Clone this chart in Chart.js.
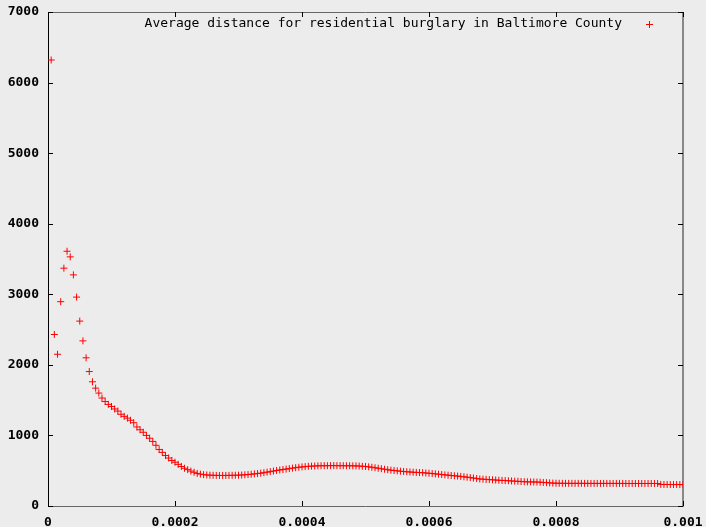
<!DOCTYPE html>
<html>
<head>
<meta charset="utf-8">
<script src="https://cdn.jsdelivr.net/npm/chart.js@4.4.0/dist/chart.umd.min.js"></script>
<style>
    html, body { margin: 0; padding: 0; background: #ececec; }
    canvas { display: block; background: #ececec; }
</style>
</head>
<body>
<canvas id="chart" width="706" height="527"></canvas>
<script>
// distance threshold, in units of 1e-6
let thresholds = [
    5, 10, 15, 20, 25, 30, 35, 40, 45, 50, 55, 60, 65, 70, 75, 80, 85, 90, 95, 100,
    105, 110, 115, 120, 125, 130, 135, 140, 145, 150, 155, 160, 165, 170, 175, 180, 185, 190, 195, 200,
    205, 210, 215, 220, 225, 230, 235, 240, 245, 250, 255, 260, 265, 270, 275, 280, 285, 290, 295, 300,
    305, 310, 315, 320, 325, 330, 335, 340, 345, 350, 355, 360, 365, 370, 375, 380, 385, 390, 395, 400,
    405, 410, 415, 420, 425, 430, 435, 440, 445, 450, 455, 460, 465, 470, 475, 480, 485, 490, 495, 500,
    505, 510, 515, 520, 525, 530, 535, 540, 545, 550, 555, 560, 565, 570, 575, 580, 585, 590, 595, 600,
    605, 610, 615, 620, 625, 630, 635, 640, 645, 650, 655, 660, 665, 670, 675, 680, 685, 690, 695, 700,
    705, 710, 715, 720, 725, 730, 735, 740, 745, 750, 755, 760, 765, 770, 775, 780, 785, 790, 795, 800,
    805, 810, 815, 820, 825, 830, 835, 840, 845, 850, 855, 860, 865, 870, 875, 880, 885, 890, 895, 900,
    905, 910, 915, 920, 925, 930, 935, 940, 945, 950, 955, 960, 965, 970, 975, 980, 985, 990, 995, 1000
];

let avgDistance = [
    6320, 2430, 2150, 2895, 3370, 3610, 3530, 3275, 2960, 2620,
    2340, 2100, 1905, 1760, 1670, 1600, 1530, 1480, 1440, 1410,
    1375, 1345, 1300, 1270, 1245, 1215, 1180, 1120, 1080, 1045,
    1000, 960, 915, 860, 800, 760, 715, 680, 645, 620,
    590, 560, 535, 515, 495, 478, 462, 452, 445, 440,
    437, 435, 434, 433, 433, 433, 434, 435, 436, 437,
    439, 442, 446, 450, 455, 460, 465, 472, 480, 487,
    495, 503, 510, 517, 523, 530, 537, 543, 549, 554,
    558, 562, 565, 567, 569, 570, 571, 571, 572, 572,
    572, 571, 571, 570, 570, 569, 568, 566, 563, 560,
    555, 549, 542, 535, 528, 521, 514, 508, 503, 498,
    493, 489, 485, 482, 479, 476, 474, 472, 468, 464,
    460, 455, 451, 446, 441, 437, 432, 428, 424, 419,
    414, 408, 402, 396, 389, 383, 380, 377, 374, 371,
    368, 365, 362, 360, 358, 355, 352, 350, 347, 344,
    342, 341, 340, 339, 337, 334, 331, 328, 325, 323,
    322, 322, 321, 321, 321, 321, 321, 321, 321, 320,
    320, 320, 320, 320, 320, 320, 320, 320, 320, 320,
    320, 319, 319, 319, 319, 319, 319, 319, 319, 319,
    319, 319, 306, 305, 305, 304, 304, 304, 303, 303
];

let seriesLabel = 'Average distance for residential burglary in Baltimore County';

let xTickValues = [0, 0.0002, 0.0004, 0.0006, 0.0008, 0.001];
let xTickLabels = ['0', '0.0002', '0.0004', '0.0006', '0.0008', '0.001'];
let yTickValues = [0, 1000, 2000, 3000, 4000, 5000, 6000, 7000];
let yTickLabels = ['0', '1000', '2000', '3000', '4000', '5000', '6000', '7000'];

const tickFont = {family: '"DejaVu Sans Mono", monospace', size: 13, weight: 'bold'};

// gnuplot style box: frame, inward ticks mirrored on all four sides, key at top right
const gnuplotFrame = {
    id: 'gnuplotFrame',
    beforeDatasetsDraw(chart) {
        const ctx = chart.ctx;
        const a = chart.chartArea;
        const xs = chart.scales.x, ys = chart.scales.y;
        const tl = 5;
        ctx.save();
        ctx.lineWidth = 1;
        ctx.strokeStyle = '#666';
        ctx.beginPath();
        ctx.moveTo(a.left, a.top + 0.5);
        ctx.lineTo(a.right, a.top + 0.5);
        ctx.moveTo(a.left, a.bottom + 0.5);
        ctx.lineTo(a.right, a.bottom + 0.5);
        ctx.stroke();
        ctx.strokeStyle = '#888';
        ctx.lineWidth = 2;
        ctx.beginPath();
        ctx.moveTo(a.right, a.top);
        ctx.lineTo(a.right, a.bottom + 1);
        ctx.stroke();
        ctx.strokeStyle = '#000';
        ctx.lineWidth = 1;
        ctx.beginPath();
        ctx.moveTo(a.left + 0.5, a.top);
        ctx.lineTo(a.left + 0.5, a.bottom + 1);
        ctx.stroke();

        ctx.strokeStyle = '#000';
        ctx.beginPath();
        xTickValues.forEach(v => {
            const px = Math.round(xs.getPixelForValue(v)) + 0.5;
            ctx.moveTo(px, a.bottom);
            ctx.lineTo(px, a.bottom - tl);
            ctx.moveTo(px, a.top);
            ctx.lineTo(px, a.top + tl);
        });
        yTickValues.forEach(v => {
            const py = Math.round(ys.getPixelForValue(v)) + 0.5;
            ctx.moveTo(a.left, py);
            ctx.lineTo(a.left + tl, py);
            ctx.moveTo(a.right, py);
            ctx.lineTo(a.right - tl, py);
        });
        ctx.stroke();
        ctx.restore();
    },
    afterDraw(chart) {
        const ctx = chart.ctx;
        const a = chart.chartArea;
        const textRight = a.right - 61;
        const y = a.top + 12;
        ctx.save();
        ctx.font = '13px "DejaVu Sans Mono", monospace';
        ctx.fillStyle = '#000';
        ctx.textAlign = 'right';
        ctx.textBaseline = 'middle';
        ctx.fillText(chart.data.datasets[0].label, textRight, y);
        const mx = a.right - 33.5, my = y + 0.5;
        ctx.strokeStyle = '#ff0000';
        ctx.lineWidth = 1;
        ctx.beginPath();
        ctx.moveTo(mx - 3.5, my);
        ctx.lineTo(mx + 3.5, my);
        ctx.moveTo(mx, my - 3.5);
        ctx.lineTo(mx, my + 3.5);
        ctx.stroke();
        ctx.restore();
    }
};

const canvas = document.getElementById('chart');
new Chart(canvas, {
    type: 'scatter',
    data: {
        datasets: [{
            label: seriesLabel,
            data: thresholds.map((t, i) => ({x: t * 1e-6, y: avgDistance[i]})),
            pointStyle: 'cross',
            pointRadius: 3.5,
            pointHoverRadius: 3.5,
            borderColor: '#ff0000',
            backgroundColor: '#ff0000',
            borderWidth: 1
        }]
    },
    options: {
        responsive: false,
        animation: false,
        layout: {padding: {top: 12, right: 23, left: 0, bottom: 0}},
        plugins: {
            legend: {display: false},
            tooltip: {enabled: false}
        },
        scales: {
            x: {
                type: 'linear',
                min: 0,
                max: 0.001,
                afterBuildTicks: (scale) => { scale.ticks = xTickValues.map(v => ({value: v})); },
                afterFit: (scale) => {
                    scale.height = 21;
                    scale.paddingLeft = 0;
                    scale.paddingRight = 0;
                },
                grid: {display: false, drawTicks: false},
                border: {display: false},
                ticks: {
                    font: tickFont,
                    color: '#000',
                    padding: 9,
                    maxRotation: 0,
                    autoSkip: false,
                    callback: (value, index) => xTickLabels[index]
                }
            },
            y: {
                type: 'linear',
                min: 0,
                max: 7000,
                afterBuildTicks: (scale) => { scale.ticks = yTickValues.map(v => ({value: v})); },
                afterFit: (scale) => {
                    scale.width = 48;
                    scale.paddingTop = 0;
                    scale.paddingBottom = 0;
                },
                grid: {display: false, drawTicks: false},
                border: {display: false},
                ticks: {
                    font: tickFont,
                    color: '#000',
                    padding: 9,
                    autoSkip: false,
                    callback: (value, index) => yTickLabels[index]
                }
            }
        }
    },
    plugins: [gnuplotFrame]
});
</script>
</body>
</html>
